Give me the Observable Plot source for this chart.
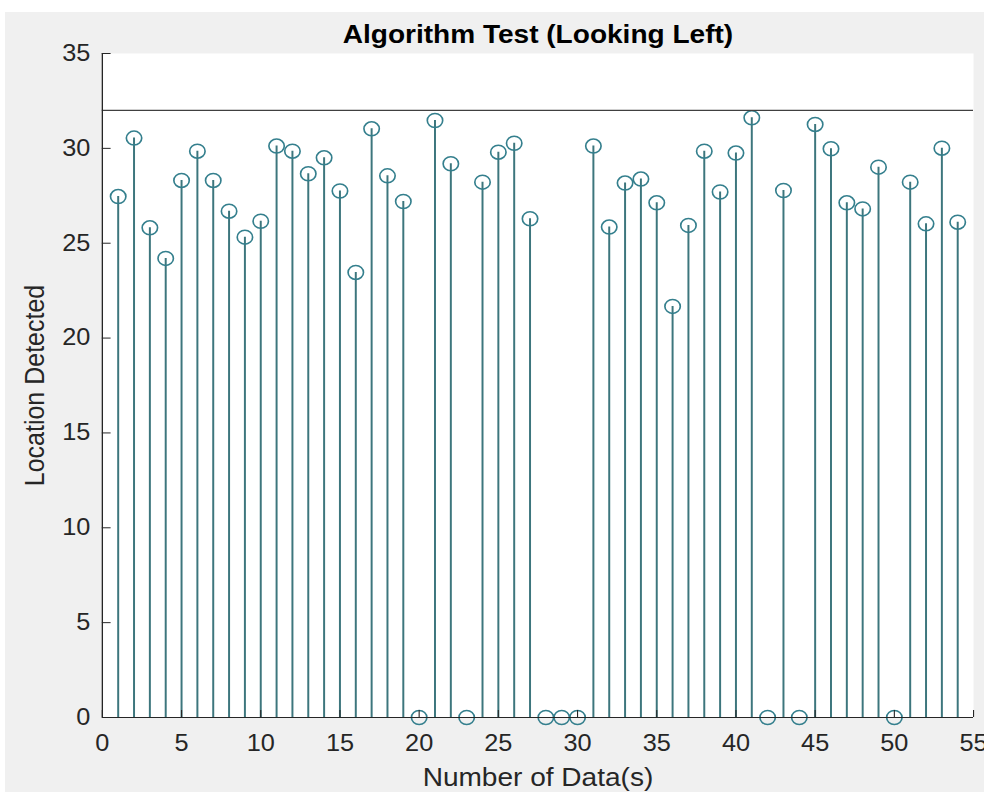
<!DOCTYPE html>
<html>
<head>
<meta charset="utf-8">
<script src="https://cdn.jsdelivr.net/npm/d3@7"></script>
<script src="https://cdn.jsdelivr.net/npm/@observablehq/plot@0.6"></script>
<style>
  html, body { margin: 0; padding: 0; background: #ffffff; width: 984px; height: 792px; overflow: hidden; }
  #fig { position: absolute; left: 5px; top: 12px; width: 979px; height: 780px; background: #f0f0f0; overflow: hidden; }
  #fig svg { position: absolute; left: 0; top: 0; transform: scaleX(1.1); transform-origin: 0 0; }
</style>
</head>
<body>
<div id="fig"></div>
<script>
const titleText = "Algorithm Test (Looking Left)";
const xLabel = "Number of Data(s)";
const yLabel = "Location Detected";
const threshold = [32];
const xTicks = [0, 5, 10, 15, 20, 25, 30, 35, 40, 45, 50, 55];
const yTicks = [0, 5, 10, 15, 20, 25, 30, 35];
const indices = [1,2,3,4,5,6,7,8,9,10,11,12,13,14,15,16,17,18,19,20,21,22,23,24,25,26,27,28,29,30,31,32,33,34,35,36,37,38,39,40,41,42,43,44,45,46,47,48,49,50,51,52,53,54];
const locations = [27.46,30.54,25.81,24.2,28.31,29.85,28.31,26.69,25.32,26.16,30.12,29.85,28.66,29.5,27.75,23.46,31.03,28.55,27.2,0,31.47,29.19,0,28.22,29.8,30.27,26.29,0,0,0,30.12,25.85,28.17,28.38,27.13,21.67,25.94,29.85,27.7,29.75,31.61,0,27.78,0,31.26,29.98,27.13,26.81,29.01,0,28.22,26.02,30.01,26.11];

const data = indices.map((d, i) => ({n: d, v: locations[i]}));
const ink = "#262626";
const stemColor = "#3d767d";
const dotColor = "#347f8d";

const chart = Plot.plot({
  width: 890,
  height: 780,
  marginLeft: 88,
  marginRight: 10,
  marginTop: 41,
  marginBottom: 75,
  style: {fontFamily: "'Liberation Sans', Arial, Helvetica, sans-serif", fontSize: "23px", background: "transparent", color: ink},
  x: {domain: [0, 55]},
  y: {domain: [0, 35]},
  marks: [
    Plot.frame({fill: "white", stroke: null}),
    Plot.ruleX(data, {x: "n", y1: 0, y2: "v", stroke: stemColor, strokeWidth: 1.8}),
    Plot.dot(data, {x: "n", y: "v", r: 7, stroke: dotColor, strokeWidth: 1.5, fill: "none"}),
    Plot.ruleY(threshold, {stroke: "#404040", strokeWidth: 1.2}),
    Plot.ruleX([0], {stroke: ink, strokeWidth: 1.2}),
    Plot.ruleY([0], {stroke: ink, strokeWidth: 1.2}),
    Plot.axisX({ticks: xTicks, tickSize: 0, tickPadding: 17, label: null, fontSize: 23}),
    Plot.axisX({ticks: xTicks, tickSize: -7, fill: "none", stroke: ink, label: null}),
    Plot.axisY({ticks: yTicks, tickSize: 0, tickPadding: 11, label: null, fontSize: 23}),
    Plot.axisY({ticks: yTicks, tickSize: -8, fill: "none", stroke: ink, label: null}),
    Plot.text([titleText], {frameAnchor: "top", dy: -11, lineAnchor: "bottom", textAnchor: "middle", fontWeight: "bold", fontSize: 25.5, fill: "#000"}),
    Plot.text([xLabel], {frameAnchor: "bottom", dy: 60, lineAnchor: "middle", textAnchor: "middle", fontSize: 25.5, fill: ink}),
    Plot.text([yLabel], {frameAnchor: "left", dx: -61, rotate: -90, lineAnchor: "middle", textAnchor: "middle", fontSize: 25, fill: ink})
  ]
});
document.getElementById("fig").appendChild(chart);
</script>
</body>
</html>
